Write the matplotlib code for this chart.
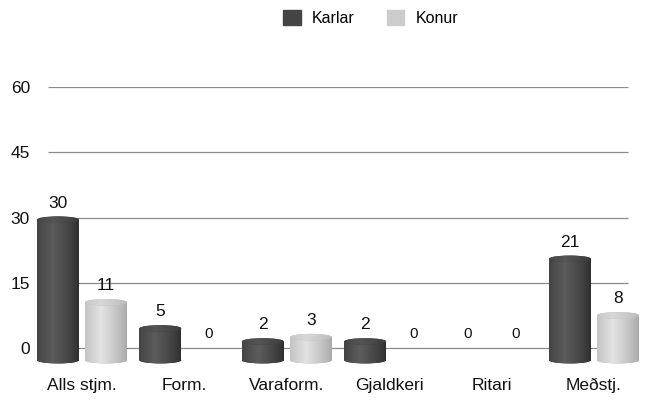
import matplotlib
matplotlib.use("Agg")
import matplotlib.pyplot as plt
from matplotlib.patches import Ellipse, Patch
import numpy as np

categories = ["Alls stjm.", "Form.", "Varaform.", "Gjaldkeri", "Ritari", "Meðstj."]
karlar = [30, 5, 2, 2, 0, 21]
konur = [11, 0, 3, 0, 0, 8]
yticks = [0, 15, 30, 45, 60]

DARK = "#444444"; LIGHT = "#cccccc"; GRID = "#8c8c8c"; INK = "#111111"
plt.rcParams.update({"font.family": "Liberation Sans", "font.size": 12})

fig = plt.figure(figsize=(6.48, 4.0), dpi=100)
# axes reach a little below 0 and left of the grid so the cylinder bases fit inside
ax = fig.add_axes([30 / 648, 34.6 / 400, 615 / 648, 278.4 / 400])
for s in ax.spines.values(): s.set_visible(False)
x = np.arange(len(categories))
ax.hlines(yticks, -0.332, 5.332, color=GRID, lw=0.9, zorder=1)
ax.set_yticks(yticks); ax.tick_params(axis="y", length=0, pad=0, labelsize=12.5, colors=INK)
ax.set_xticks(x); ax.set_xticklabels(categories)
ax.tick_params(axis="x", length=0, pad=9, labelsize=12.5, colors=INK)

W = 0.41; OFF = 0.235; BOT = -2.8; DROP = 0.5; EH = 1.5

def shade(c0, c1):
    t = np.linspace(0, 1, 64)
    prof = np.clip(1 - np.abs(t - 0.38) / 0.62, 0, 1) ** 0.8
    c0 = np.array(matplotlib.colors.to_rgb(c0)); c1 = np.array(matplotlib.colors.to_rgb(c1))
    return (c0[None, :] + (c1 - c0)[None, :] * prof[:, None])[None, :, :]

def grad_fill(patch, g, x0, y0, y1, z):
    if patch.axes is None: ax.add_patch(patch)
    im = ax.imshow(g, extent=(x0, x0 + W, y0, y1), aspect="auto", zorder=z)
    im.set_clip_path(patch)

def cyl(xs, vals, lo, hi, top_lo, top_hi):
    h = [v - DROP - BOT if v > 0 else 0 for v in vals]
    bars = ax.bar(xs, h, W, bottom=BOT, color=lo, zorder=2, lw=0)
    g = shade(lo, hi); gt = shade(top_lo, top_hi)
    for b, v in zip(bars, vals):
        if v <= 0: continue
        x0 = b.get_x(); y0 = b.get_y(); y1 = y0 + b.get_height(); cx = x0 + W / 2
        grad_fill(b, g, x0, y0, y1, 3)
        grad_fill(Ellipse((cx, y0), W, EH, fc=lo, lw=0, zorder=2), g, x0, y0 - EH, y0 + EH, 3)
        grad_fill(Ellipse((cx, y1), W, EH, fc=top_lo, lw=0, zorder=4), gt, x0, y1 - EH, y1 + EH, 4)
    for xi, v in zip(xs, vals):
        ax.annotate(str(v), (xi, v), xytext=(0, 5), textcoords="offset points", ha="center",
                    va="bottom", fontsize=12.5 if v else 11, color=INK, annotation_clip=False)

cyl(x - OFF, karlar, "#2f2f2f", "#5c5c5c", "#3a3a3a", "#555555")
cyl(x + OFF, konur, "#a9a9a9", "#e2e2e2", "#b9b9b9", "#d8d8d8")
ax.set_xlim(-0.508, 5.498); ax.set_ylim(-4, 60)

fig.legend(handles=[Patch(color=DARK, label="Karlar"), Patch(color=LIGHT, label="Konur")],
           loc="center", bbox_to_anchor=(0.572, 0.955), ncol=2, frameon=False, fontsize=11.5,
           handlelength=1.1, handleheight=1.1, columnspacing=2.0, handletextpad=0.7)
fig.savefig("out.png", dpi=100, facecolor="white")
